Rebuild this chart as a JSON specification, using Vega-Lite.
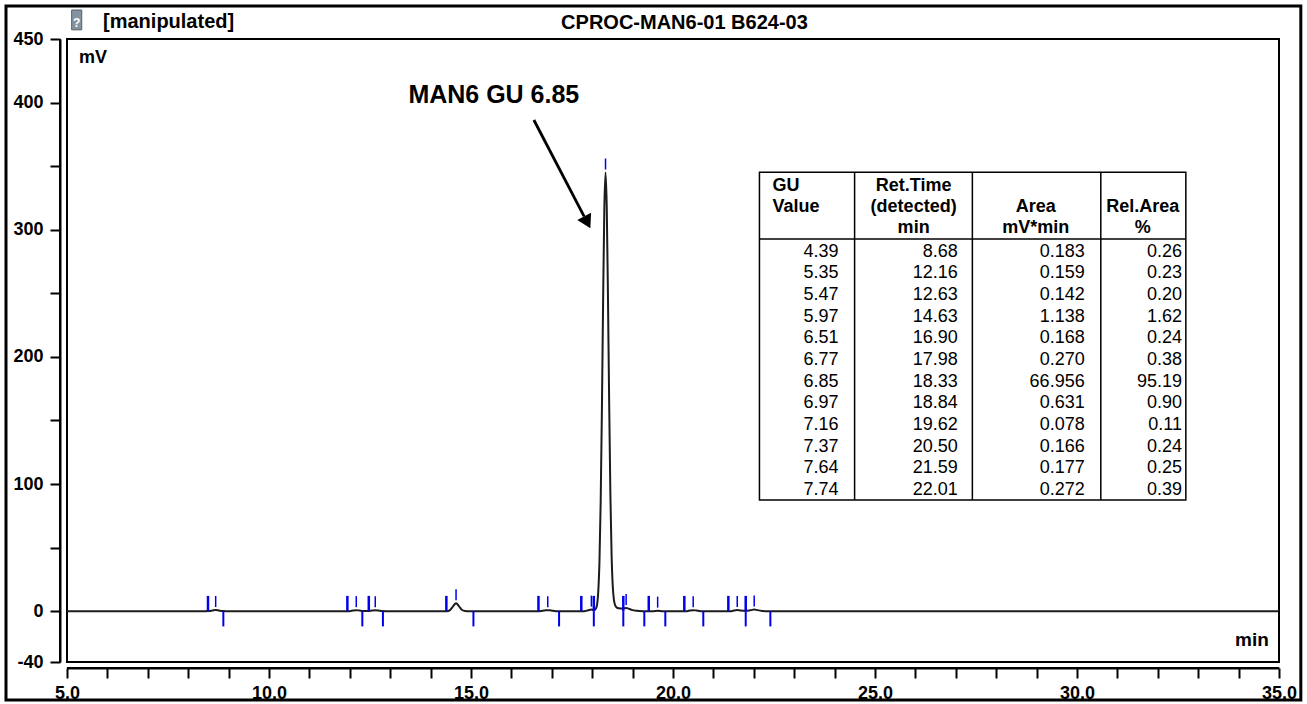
{
  "$schema": "https://vega.github.io/schema/vega-lite/v6.json",
  "width": 1212,
  "height": 623,
  "autosize": {"type": "none"},
  "padding": {"left": 67, "top": 39, "right": 28, "bottom": 42},
  "background": "white",
  "config": {
    "view": {"stroke": "black", "strokeWidth": 2},
    "font": "Liberation Sans",
    "text": {"font": "Liberation Sans", "color": "black"}
  },
  "datasets": {
    "trace": [
      {"t": 5.0, "mv": 0}, {"t": 8.40, "mv": 0}, {"t": 8.52, "mv": 0.1}, {"t": 8.60, "mv": 0.5}, {"t": 8.68, "mv": 0.9}, {"t": 8.76, "mv": 0.5}, {"t": 8.84, "mv": 0.1}, {"t": 8.95, "mv": 0},
      {"t": 12.00, "mv": 0}, {"t": 12.08, "mv": 0.5}, {"t": 12.16, "mv": 0.8}, {"t": 12.24, "mv": 0.5}, {"t": 12.32, "mv": 0.15}, {"t": 12.40, "mv": 0.1}, {"t": 12.47, "mv": 0.15}, {"t": 12.55, "mv": 0.45}, {"t": 12.63, "mv": 0.7}, {"t": 12.71, "mv": 0.45}, {"t": 12.79, "mv": 0.1}, {"t": 12.90, "mv": 0},
      {"t": 14.40, "mv": 0}, {"t": 14.48, "mv": 0.85}, {"t": 14.555, "mv": 3.8}, {"t": 14.63, "mv": 6.3}, {"t": 14.705, "mv": 3.8}, {"t": 14.78, "mv": 0.9}, {"t": 14.855, "mv": 0.15}, {"t": 14.95, "mv": 0},
      {"t": 16.70, "mv": 0}, {"t": 16.82, "mv": 0.5}, {"t": 16.90, "mv": 0.8}, {"t": 16.98, "mv": 0.5}, {"t": 17.10, "mv": 0},
      {"t": 17.80, "mv": 0}, {"t": 17.90, "mv": 0.7}, {"t": 17.98, "mv": 1.2}, {"t": 18.03, "mv": 0.9}, {"t": 18.06, "mv": 1.0}, {"t": 18.09, "mv": 2.0}, {"t": 18.12, "mv": 5.0}, {"t": 18.15, "mv": 15.2}, {"t": 18.18, "mv": 39.4}, {"t": 18.21, "mv": 86}, {"t": 18.24, "mv": 158}, {"t": 18.27, "mv": 244}, {"t": 18.30, "mv": 316}, {"t": 18.33, "mv": 345}, {"t": 18.36, "mv": 318}, {"t": 18.39, "mv": 248}, {"t": 18.42, "mv": 164}, {"t": 18.45, "mv": 92}, {"t": 18.48, "mv": 44}, {"t": 18.51, "mv": 19}, {"t": 18.54, "mv": 8.5}, {"t": 18.57, "mv": 4.5}, {"t": 18.61, "mv": 2.8}, {"t": 18.66, "mv": 2.2}, {"t": 18.72, "mv": 2.0}, {"t": 18.78, "mv": 2.2}, {"t": 18.84, "mv": 2.5}, {"t": 18.90, "mv": 2.0}, {"t": 18.98, "mv": 1.0}, {"t": 19.10, "mv": 0.3}, {"t": 19.25, "mv": 0},
      {"t": 19.50, "mv": 0}, {"t": 19.62, "mv": 0.4}, {"t": 19.75, "mv": 0},
      {"t": 20.35, "mv": 0}, {"t": 20.42, "mv": 0.5}, {"t": 20.50, "mv": 0.8}, {"t": 20.58, "mv": 0.5}, {"t": 20.68, "mv": 0},
      {"t": 21.45, "mv": 0}, {"t": 21.51, "mv": 0.5}, {"t": 21.59, "mv": 0.9}, {"t": 21.67, "mv": 0.5}, {"t": 21.80, "mv": 0.3}, {"t": 21.93, "mv": 0.8}, {"t": 22.01, "mv": 1.3}, {"t": 22.09, "mv": 0.8}, {"t": 22.20, "mv": 0.2}, {"t": 22.40, "mv": 0},
      {"t": 35.0, "mv": 0}
    ],
    "peaks": [
      {"row": 1, "gu": 4.39, "rt": 8.68, "area": 0.183, "rel": 0.26, "apex": 0.9},
      {"row": 2, "gu": 5.35, "rt": 12.16, "area": 0.159, "rel": 0.23, "apex": 0.8},
      {"row": 3, "gu": 5.47, "rt": 12.63, "area": 0.142, "rel": 0.20, "apex": 0.7},
      {"row": 4, "gu": 5.97, "rt": 14.63, "area": 1.138, "rel": 1.62, "apex": 6.3},
      {"row": 5, "gu": 6.51, "rt": 16.90, "area": 0.168, "rel": 0.24, "apex": 0.8},
      {"row": 6, "gu": 6.77, "rt": 17.98, "area": 0.270, "rel": 0.38, "apex": 1.2},
      {"row": 7, "gu": 6.85, "rt": 18.33, "area": 66.956, "rel": 95.19, "apex": 345},
      {"row": 8, "gu": 6.97, "rt": 18.84, "area": 0.631, "rel": 0.90, "apex": 2.5},
      {"row": 9, "gu": 7.16, "rt": 19.62, "area": 0.078, "rel": 0.11, "apex": 0.4},
      {"row": 10, "gu": 7.37, "rt": 20.50, "area": 0.166, "rel": 0.24, "apex": 0.8},
      {"row": 11, "gu": 7.64, "rt": 21.59, "area": 0.177, "rel": 0.25, "apex": 0.9},
      {"row": 12, "gu": 7.74, "rt": 22.01, "area": 0.272, "rel": 0.39, "apex": 1.3}
    ],
    "ticks": [
      {"t": 8.49, "kind": "start"}, {"t": 11.94, "kind": "start"}, {"t": 12.47, "kind": "start"}, {"t": 14.39, "kind": "start"}, {"t": 16.67, "kind": "start"}, {"t": 17.73, "kind": "start"}, {"t": 18.04, "kind": "start"}, {"t": 18.77, "kind": "start"}, {"t": 19.40, "kind": "start"}, {"t": 20.28, "kind": "start"}, {"t": 21.37, "kind": "start"}, {"t": 21.80, "kind": "start"},
      {"t": 8.87, "kind": "end"}, {"t": 12.31, "kind": "end"}, {"t": 12.82, "kind": "end"}, {"t": 15.06, "kind": "end"}, {"t": 17.18, "kind": "end"}, {"t": 18.04, "kind": "end"}, {"t": 18.77, "kind": "end"}, {"t": 19.29, "kind": "end"}, {"t": 19.81, "kind": "end"}, {"t": 20.75, "kind": "end"}, {"t": 21.80, "kind": "end"}, {"t": 22.41, "kind": "end"}
    ]
  },
  "layer": [
    {
      "layer": [
        {
          "data": {"name": "trace"},
          "mark": {"type": "line", "color": "#1c1c1c", "strokeWidth": 2, "interpolate": "monotone"},
          "encoding": {
            "x": {
              "field": "t", "type": "quantitative", "title": null,
              "scale": {"domain": [5, 35], "nice": false, "zero": false},
              "axis": {
                "title": null, "grid": false, "offset": 6, "domain": true,
                "values": [5,6,7,8,9,10,11,12,13,14,15,16,17,18,19,20,21,22,23,24,25,26,27,28,29,30,31,32,33,34,35],
                "labelExpr": "datum.value % 5 === 0 ? format(datum.value, '.1f') : ''",
                "tickSize": 10,
                "encode": {"ticks": {"update": {"y2": {"signal": "datum.value % 5 === 0 ? 10 : 5"}}}},
                "tickColor": "black", "tickWidth": 2,
                "domainColor": "black", "domainWidth": 2,
                "labelFont": "Liberation Sans", "labelFontSize": 18, "labelFontWeight": "bold", "labelColor": "black",
                "labelPadding": 6, "labelOverlap": false, "labelFlush": false
              }
            },
            "y": {
              "field": "mv", "type": "quantitative", "title": null,
              "scale": {"domain": [-40, 450], "nice": false, "zero": false},
              "axis": {
                "title": null, "grid": false, "offset": 7, "domain": true,
                "values": [-40,-25,0,25,50,75,100,125,150,175,200,225,250,275,300,325,350,375,400,425,450],
                "labelExpr": "indexof([-40,0,100,200,300,400,450], datum.value) >= 0 ? '' + datum.value : ''",
                "tickSize": 10,
                "encode": {"ticks": {"update": {"x2": {"signal": "indexof([-40,0,100,200,300,400,450], datum.value) >= 0 ? -10 : -6"}}}},
                "tickColor": "black", "tickWidth": 2,
                "domainColor": "black", "domainWidth": 2,
                "labelFont": "Liberation Sans", "labelFontSize": 18, "labelFontWeight": "bold", "labelColor": "black",
                "labelPadding": 7, "labelOverlap": false, "labelFlush": false
              }
            }
          }
        },
        {
          "data": {"values": [{}]},
          "mark": {"type": "rule", "color": "black", "strokeWidth": 2},
          "encoding": {
            "x": {"datum": 4.8266, "type": "quantitative", "scale": {"domain": [5, 35], "nice": false, "zero": false}},
            "y": {"datum": -40, "type": "quantitative", "scale": {"domain": [-40, 450], "nice": false, "zero": false}},
            "y2": {"datum": 450}
          }
        },
        {
          "data": {"values": [{}]},
          "mark": {"type": "rule", "color": "black", "strokeWidth": 2},
          "encoding": {
            "x": {"datum": 5, "type": "quantitative", "scale": {"domain": [5, 35]}},
            "x2": {"datum": 35},
            "y": {"datum": -44.72, "type": "quantitative", "scale": {"domain": [-40, 450]}}
          }
        },
        {
          "data": {"values": [{}]},
          "mark": {"type": "rect", "filled": false, "stroke": "black", "strokeWidth": 3},
          "encoding": {
            "x": {"datum": 3.49, "type": "quantitative", "scale": {"domain": [5, 35]}},
            "x2": {"datum": 35.54},
            "y": {"datum": 475.9, "type": "quantitative", "scale": {"domain": [-40, 450]}},
            "y2": {"datum": -69.9}
          }
        },
        {
          "data": {"values": [{}]},
          "mark": {"type": "rect", "fill": "#8593a0", "stroke": "#55606b", "strokeWidth": 1},
          "encoding": {
            "x": {"datum": 5.115, "type": "quantitative", "scale": {"domain": [5, 35]}},
            "x2": {"datum": 5.365},
            "y": {"datum": 472.8, "type": "quantitative", "scale": {"domain": [-40, 450]}},
            "y2": {"datum": 457.2}
          }
        },
        {
          "data": {"values": [{}]},
          "mark": {"type": "text", "align": "center", "baseline": "alphabetic", "fontSize": 12, "fontWeight": "bold", "color": "white"},
          "encoding": {
            "x": {"datum": 5.24, "type": "quantitative", "scale": {"domain": [5, 35]}},
            "y": {"datum": 459.4, "type": "quantitative", "scale": {"domain": [-40, 450]}},
            "text": {"value": "?"}
          }
        },
        {
          "data": {"values": [{}]},
          "mark": {"type": "rect", "fill": "white", "stroke": "black", "strokeWidth": 1.5},
          "encoding": {
            "x": {"datum": 22.14, "type": "quantitative", "scale": {"domain": [5, 35]}},
            "x2": {"datum": 32.694},
            "y": {"datum": 345.1, "type": "quantitative", "scale": {"domain": [-40, 450]}},
            "y2": {"datum": 87.4}
          }
        },
        {
          "data": {"values": [{}]},
          "mark": {"type": "rule", "color": "black", "strokeWidth": 1.5},
          "encoding": {
            "x": {"datum": 24.495, "type": "quantitative", "scale": {"domain": [5, 35]}},
            "y": {"datum": 345.1, "type": "quantitative", "scale": {"domain": [-40, 450]}},
            "y2": {"datum": 87.4}
          }
        },
        {
          "data": {"values": [{}]},
          "mark": {"type": "rule", "color": "black", "strokeWidth": 1.5},
          "encoding": {
            "x": {"datum": 27.41, "type": "quantitative", "scale": {"domain": [5, 35]}},
            "y": {"datum": 345.1, "type": "quantitative", "scale": {"domain": [-40, 450]}},
            "y2": {"datum": 87.4}
          }
        },
        {
          "data": {"values": [{}]},
          "mark": {"type": "rule", "color": "black", "strokeWidth": 1.5},
          "encoding": {
            "x": {"datum": 30.589, "type": "quantitative", "scale": {"domain": [5, 35]}},
            "y": {"datum": 345.1, "type": "quantitative", "scale": {"domain": [-40, 450]}},
            "y2": {"datum": 87.4}
          }
        },
        {
          "data": {"values": [{}]},
          "mark": {"type": "rule", "color": "black", "strokeWidth": 1.5},
          "encoding": {
            "x": {"datum": 22.14, "type": "quantitative", "scale": {"domain": [5, 35]}},
            "x2": {"datum": 32.694},
            "y": {"datum": 292.6, "type": "quantitative", "scale": {"domain": [-40, 450]}}
          }
        },
        {
          "data": {"values": [{}]},
          "mark": {"type": "text", "align": "left", "baseline": "top", "fontSize": 18, "fontWeight": "bold", "lineHeight": 21},
          "encoding": {
            "x": {"datum": 22.464, "type": "quantitative", "scale": {"domain": [5, 35]}},
            "y": {"datum": 341.8, "type": "quantitative", "scale": {"domain": [-40, 450]}},
            "text": {"value": ["GU", "Value"]}
          }
        },
        {
          "data": {"values": [{}]},
          "mark": {"type": "text", "align": "center", "baseline": "top", "fontSize": 18, "fontWeight": "bold", "lineHeight": 21},
          "encoding": {
            "x": {"datum": 25.956, "type": "quantitative", "scale": {"domain": [5, 35]}},
            "y": {"datum": 341.8, "type": "quantitative", "scale": {"domain": [-40, 450]}},
            "text": {"value": ["Ret.Time", "(detected)", "min"]}
          }
        },
        {
          "data": {"values": [{}]},
          "mark": {"type": "text", "align": "center", "baseline": "top", "fontSize": 18, "fontWeight": "bold", "lineHeight": 21},
          "encoding": {
            "x": {"datum": 28.978, "type": "quantitative", "scale": {"domain": [5, 35]}},
            "y": {"datum": 324.9, "type": "quantitative", "scale": {"domain": [-40, 450]}},
            "text": {"value": ["Area", "mV*min"]}
          }
        },
        {
          "data": {"values": [{}]},
          "mark": {"type": "text", "align": "center", "baseline": "top", "fontSize": 18, "fontWeight": "bold", "lineHeight": 21},
          "encoding": {
            "x": {"datum": 31.629, "type": "quantitative", "scale": {"domain": [5, 35]}},
            "y": {"datum": 324.9, "type": "quantitative", "scale": {"domain": [-40, 450]}},
            "text": {"value": ["Rel.Area", "%"]}
          }
        },
        {
          "data": {"name": "ticks"},
          "transform": [{"filter": "datum.kind === 'start'"}],
          "mark": {"type": "rule", "color": "#0000ee", "strokeWidth": 2.5},
          "encoding": {
            "x": {"field": "t", "type": "quantitative", "title": null, "scale": {"domain": [5, 35]}},
            "y": {"datum": 0, "type": "quantitative", "scale": {"domain": [-40, 450]}},
            "y2": {"datum": 12}
          }
        },
        {
          "data": {"name": "ticks"},
          "transform": [{"filter": "datum.kind === 'end'"}],
          "mark": {"type": "rule", "color": "#0000ee", "strokeWidth": 2},
          "encoding": {
            "x": {"field": "t", "type": "quantitative", "title": null, "scale": {"domain": [5, 35]}},
            "y": {"datum": 0, "type": "quantitative", "scale": {"domain": [-40, 450]}},
            "y2": {"datum": -12}
          }
        },
        {
          "data": {"name": "peaks"},
          "mark": {"type": "rule", "color": "#0000ee", "strokeWidth": 1.5, "yOffset": -3, "y2Offset": -14},
          "encoding": {
            "x": {"field": "rt", "type": "quantitative", "title": null, "scale": {"domain": [5, 35]}},
            "y": {"field": "apex", "type": "quantitative", "title": null, "scale": {"domain": [-40, 450]}},
            "y2": {"field": "apex"}
          }
        },
        {
          "data": {"values": [{}]},
          "mark": {"type": "text", "align": "center", "baseline": "alphabetic", "fontSize": 25, "fontWeight": "bold"},
          "encoding": {
            "x": {"datum": 15.565, "type": "quantitative", "scale": {"domain": [5, 35]}},
            "y": {"datum": 399.6, "type": "quantitative", "scale": {"domain": [-40, 450]}},
            "text": {"value": "MAN6 GU 6.85"}
          }
        },
        {
          "data": {"values": [{}]},
          "mark": {"type": "rule", "color": "black", "strokeWidth": 2.8},
          "encoding": {
            "x": {"datum": 16.556, "type": "quantitative", "scale": {"domain": [5, 35]}},
            "y": {"datum": 386.3, "type": "quantitative", "scale": {"domain": [-40, 450]}},
            "x2": {"datum": 17.80},
            "y2": {"datum": 310.5}
          }
        },
        {
          "data": {"values": [{}]},
          "mark": {"type": "point", "shape": "triangle-down", "filled": true, "color": "black", "size": 240, "angle": 332.6, "opacity": 1},
          "encoding": {
            "x": {"datum": 17.878, "type": "quantitative", "scale": {"domain": [5, 35]}},
            "y": {"datum": 305.8, "type": "quantitative", "scale": {"domain": [-40, 450]}}
          }
        },
        {
          "data": {"values": [{}]},
          "mark": {"type": "text", "align": "left", "baseline": "alphabetic", "fontSize": 18, "fontWeight": "bold"},
          "encoding": {
            "x": {"datum": 5.297, "type": "quantitative", "scale": {"domain": [5, 35]}},
            "y": {"datum": 431.1, "type": "quantitative", "scale": {"domain": [-40, 450]}},
            "text": {"value": "mV"}
          }
        },
        {
          "data": {"values": [{}]},
          "mark": {"type": "text", "align": "right", "baseline": "alphabetic", "fontSize": 19, "fontWeight": "bold"},
          "encoding": {
            "x": {"datum": 34.75, "type": "quantitative", "scale": {"domain": [5, 35]}},
            "y": {"datum": -27.45, "type": "quantitative", "scale": {"domain": [-40, 450]}},
            "text": {"value": "min"}
          }
        },
        {
          "data": {"values": [{}]},
          "mark": {"type": "text", "align": "left", "baseline": "alphabetic", "fontSize": 20, "fontWeight": "bold"},
          "encoding": {
            "x": {"datum": 5.892, "type": "quantitative", "scale": {"domain": [5, 35]}},
            "y": {"datum": 458.6, "type": "quantitative", "scale": {"domain": [-40, 450]}},
            "text": {"value": "[manipulated]"}
          }
        },
        {
          "data": {"values": [{}]},
          "mark": {"type": "text", "align": "center", "baseline": "alphabetic", "fontSize": 20, "fontWeight": "bold"},
          "encoding": {
            "x": {"datum": 20.284, "type": "quantitative", "scale": {"domain": [5, 35]}},
            "y": {"datum": 457.8, "type": "quantitative", "scale": {"domain": [-40, 450]}},
            "text": {"value": "CPROC-MAN6-01 B624-03"}
          }
        }
      ]
    },
    {
      "data": {"name": "peaks"},
      "encoding": {
        "y": {"field": "row", "type": "ordinal", "scale": {"type": "point", "range": [212.5, 451], "padding": 0}, "axis": null}
      },
      "layer": [
        {
          "mark": {"type": "text", "align": "right", "baseline": "middle", "fontSize": 18},
          "encoding": {
            "x": {"datum": 24.10, "type": "quantitative", "scale": {"domain": [5, 35]}},
            "text": {"field": "gu", "type": "quantitative", "format": ".2f"}
          }
        },
        {
          "mark": {"type": "text", "align": "right", "baseline": "middle", "fontSize": 18},
          "encoding": {
            "x": {"datum": 27.05, "type": "quantitative", "scale": {"domain": [5, 35]}},
            "text": {"field": "rt", "type": "quantitative", "format": ".2f"}
          }
        },
        {
          "mark": {"type": "text", "align": "right", "baseline": "middle", "fontSize": 18},
          "encoding": {
            "x": {"datum": 30.19, "type": "quantitative", "scale": {"domain": [5, 35]}},
            "text": {"field": "area", "type": "quantitative", "format": ".3f"}
          }
        },
        {
          "mark": {"type": "text", "align": "right", "baseline": "middle", "fontSize": 18},
          "encoding": {
            "x": {"datum": 32.60, "type": "quantitative", "scale": {"domain": [5, 35]}},
            "text": {"field": "rel", "type": "quantitative", "format": ".2f"}
          }
        }
      ]
    }
  ],
  "resolve": {"scale": {"y": "independent"}}
}
